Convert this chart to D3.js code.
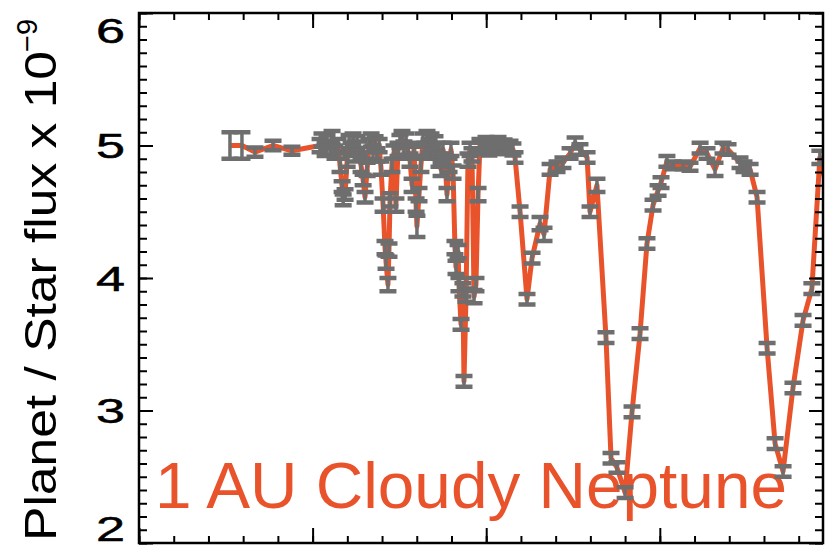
<!DOCTYPE html>
<html>
<head>
<meta charset="utf-8">
<script src="https://cdn.jsdelivr.net/npm/d3@7"></script>
<style>
  body { margin: 0; background: #fff; }
  svg { display: block; }
</style>
</head>
<body>
<svg id="chart" width="828" height="548"></svg>
<script>
// Reflected-light spectrum: planet/star flux ratio (units of 1e-9) vs wavelength (micron)
const wavelength = [
  // blue end
  0.4524, 0.4593, 0.4668, 0.4772, 0.4881,
  // dense band with narrow absorption features
  0.5043, 0.5054, 0.5072, 0.5083, 0.5101, 0.5112, 0.5129, 0.5147, 0.5158, 0.5170,
  0.5176, 0.5187, 0.5199, 0.5210, 0.5222, 0.5233, 0.5245, 0.5256, 0.5268, 0.5279,
  0.5291, 0.5302, 0.5314, 0.5325, 0.5337, 0.5348, 0.5360, 0.5371, 0.5383, 0.5394,
  0.5406, 0.5417, 0.5423, 0.5434, 0.5440, 0.5446, 0.5457, 0.5469, 0.5480, 0.5492,
  0.5503, 0.5515, 0.5526, 0.5538, 0.5550, 0.5561, 0.5573, 0.5584, 0.5596, 0.5601,
  0.5613, 0.5624, 0.5636, 0.5647, 0.5659, 0.5671, 0.5682, 0.5694, 0.5705, 0.5717,
  0.5728, 0.5740, 0.5751, 0.5763, 0.5774, 0.5786, 0.5797, 0.5809, 0.5820, 0.5826,
  0.5838, 0.5843, 0.5855, 0.5866, 0.5872, 0.5884, 0.5895, 0.5907, 0.5918, 0.5930,
  0.5941, 0.5953, 0.5964, 0.5982, 0.5999, 0.6016, 0.6033, 0.6051, 0.6068, 0.6085,
  0.6103, 0.6120, 0.6137, 0.6154, 0.6166,
  // broad methane bands
  0.6195, 0.6235, 0.6264, 0.6310, 0.6333, 0.6368, 0.6408, 0.6442, 0.6483, 0.6512,
  0.6540, 0.6581, 0.6598, 0.6638, 0.6690, 0.6719, 0.6753, 0.6800, 0.6840, 0.6886,
  0.6926, 0.6961, 0.6990, 0.7007, 0.7041, 0.7076, 0.7134, 0.7174, 0.7232, 0.7272,
  0.7318, 0.7364, 0.7393, 0.7462, 0.7485, 0.7520, 0.7560, 0.7618, 0.7664, 0.7710,
  0.7767, 0.7825, 0.7876, 0.7922, 0.8014
];
const flux = [
  5.00, 5.00, 4.95, 5.00, 4.96,
  5.00, 5.04, 4.97, 5.03, 4.98, 5.06, 4.95, 5.00, 4.85, 4.69,
  4.59, 4.63, 4.89, 5.03, 4.97, 5.04, 4.93, 5.02, 4.98, 4.85,
  4.74, 4.61, 4.82, 5.00, 5.04, 4.95, 5.02, 4.93, 5.00, 4.83,
  4.55, 4.23, 4.12, 3.95, 4.21, 4.59, 4.85, 4.95, 4.55, 4.97,
  5.03, 5.06, 4.98, 5.04, 4.95, 4.89, 4.70, 4.97, 4.55, 4.39,
  4.63, 4.85, 5.04, 4.97, 5.06, 5.00, 5.04, 4.95, 5.02, 4.97,
  4.89, 4.82, 4.97, 4.89, 4.63, 4.85, 4.97, 4.80, 4.23, 4.08,
  4.20, 3.95, 3.65, 3.91, 3.22, 3.87, 4.89, 4.97, 4.93, 3.86,
  3.95, 4.63, 5.00, 4.98, 5.02, 4.97, 5.01, 4.99, 5.02, 4.98,
  5.00, 4.98, 4.99, 4.97, 4.91,
  4.50, 3.84, 4.15, 4.41, 4.33, 4.82, 4.84, 4.87, 4.94, 5.02,
  4.97, 4.91, 4.50, 4.70, 3.55, 2.64, 2.57, 2.38, 2.99, 3.58,
  4.26, 4.55, 4.66, 4.72, 4.88, 4.85, 4.85, 4.84, 4.98, 4.94,
  4.82, 4.98, 4.97, 4.87, 4.84, 4.82, 4.61, 3.47, 2.75, 2.54,
  3.17, 3.68, 3.92, 4.91, 4.40
];
const fluxErr = [
  0.10, 0.10, 0.035, 0.035, 0.03,
  0.05, 0.05, 0.05, 0.05, 0.05, 0.05, 0.05, 0.05, 0.05, 0.04,
  0.04, 0.04, 0.05, 0.05, 0.05, 0.05, 0.05, 0.05, 0.05, 0.05,
  0.04, 0.04, 0.05, 0.05, 0.05, 0.05, 0.05, 0.05, 0.05, 0.05,
  0.05, 0.05, 0.05, 0.05, 0.05, 0.05, 0.05, 0.05, 0.05, 0.05,
  0.05, 0.05, 0.05, 0.05, 0.05, 0.05, 0.05, 0.05, 0.05, 0.08,
  0.05, 0.05, 0.05, 0.05, 0.05, 0.05, 0.05, 0.05, 0.05, 0.05,
  0.05, 0.05, 0.05, 0.05, 0.05, 0.05, 0.05, 0.05, 0.05, 0.05,
  0.05, 0.05, 0.04, 0.05, 0.04, 0.05, 0.05, 0.05, 0.05, 0.05,
  0.05, 0.05, 0.05, 0.045, 0.045, 0.045, 0.045, 0.045, 0.045, 0.045,
  0.045, 0.045, 0.045, 0.045, 0.04,
  0.04, 0.04, 0.04, 0.05, 0.05, 0.04, 0.04, 0.04, 0.04, 0.04,
  0.04, 0.04, 0.04, 0.05, 0.04, 0.04, 0.04, 0.04, 0.04, 0.04,
  0.04, 0.04, 0.04, 0.04, 0.04, 0.03, 0.03, 0.03, 0.04, 0.04,
  0.05, 0.04, 0.04, 0.04, 0.04, 0.04, 0.04, 0.04, 0.04, 0.04,
  0.04, 0.04, 0.04, 0.05, 0.05
];

const yTickValues = [2, 3, 4, 5, 6];
const yTickLabels = ["2", "3", "4", "5", "6"];
const xMajorTicks = [0.4, 0.5, 0.6, 0.7];
const xMinorTicks = d3.range(20, 40).map(i => i / 50);
const yMinorTicks = d3.range(20, 61).map(i => i / 10);
const seriesLabel = "1 AU Cloudy Neptune";
const yTitle = "Planet / Star flux x 10";
const yTitleExponent = "\u22129";

const lineColor = "#e9532b";
const barColor = "#6e6e6e";
const font = "'Liberation Sans', Arial, Helvetica, sans-serif";

const svg = d3.select("#chart");
const frame = { left: 139, right: 823, top: 13, bottom: 543 };

const x = d3.scaleLinear().domain([0.4, 0.794]).range([frame.left, frame.right]);
const y = d3.scaleLinear().domain([2, 6]).range([frame.bottom, frame.top]);

const points = wavelength.map((w, i) => ({ w, f: flux[i], e: fluxErr[i] }));

svg.append("defs").append("clipPath").attr("id", "plotClip")
  .append("rect").attr("x", frame.left).attr("y", frame.top)
  .attr("width", frame.right - frame.left).attr("height", frame.bottom - frame.top);

// Series label inside the plot
svg.append("text")
  .attr("x", 155).attr("y", 508)
  .attr("font-family", font).attr("font-size", 64)
  .attr("textLength", 632).attr("lengthAdjust", "spacingAndGlyphs")
  .attr("fill", lineColor)
  .text(seriesLabel);

const plot = svg.append("g").attr("clip-path", "url(#plotClip)");

// Spectrum line
plot.append("path")
  .datum(points)
  .attr("fill", "none")
  .attr("stroke", lineColor)
  .attr("stroke-width", 5)
  .attr("stroke-linejoin", "round")
  .attr("d", d3.line().x(d => x(d.w)).y(d => y(d.f)));

// Error bars
const capHalf = 8.5;
const bars = plot.append("g").attr("stroke", barColor).attr("fill", "none");
bars.selectAll("path.stem").data(points).join("path")
  .attr("class", "stem")
  .attr("stroke-width", 3.5)
  .attr("d", d => `M${x(d.w)},${y(d.f + d.e)}V${y(d.f - d.e)}`);
bars.selectAll("path.cap").data(points).join("path")
  .attr("class", "cap")
  .attr("stroke-width", 4.5)
  .attr("d", d => {
    const cx = x(d.w), t = y(d.f + d.e), b = y(d.f - d.e);
    return `M${cx - capHalf},${t}H${cx + capHalf}M${cx - capHalf},${b}H${cx + capHalf}`;
  });

// Axes: ticks point inward on all four sides
function styleAxis(g) {
  g.select(".domain").remove();
  g.selectAll(".tick line").attr("stroke", "#000").attr("stroke-width", 2);
  g.selectAll(".tick text").remove();
}
const axes = svg.append("g");
axes.append("g").attr("transform", `translate(0,${frame.bottom})`)
  .call(d3.axisBottom(x).tickValues(xMinorTicks).tickSize(-7)).call(styleAxis);
axes.append("g").attr("transform", `translate(0,${frame.bottom})`)
  .call(d3.axisBottom(x).tickValues(xMajorTicks).tickSize(-15)).call(styleAxis);
axes.append("g").attr("transform", `translate(0,${frame.top})`)
  .call(d3.axisTop(x).tickValues(xMinorTicks).tickSize(-7)).call(styleAxis);
axes.append("g").attr("transform", `translate(0,${frame.top})`)
  .call(d3.axisTop(x).tickValues(xMajorTicks).tickSize(-15)).call(styleAxis);
axes.append("g").attr("transform", `translate(${frame.left},0)`)
  .call(d3.axisLeft(y).tickValues(yMinorTicks).tickSize(-8)).call(styleAxis);
axes.append("g").attr("transform", `translate(${frame.left},0)`)
  .call(d3.axisLeft(y).tickValues(yTickValues).tickSize(-14)).call(styleAxis);
axes.append("g").attr("transform", `translate(${frame.right},0)`)
  .call(d3.axisRight(y).tickValues(yMinorTicks).tickSize(-8)).call(styleAxis);
axes.append("g").attr("transform", `translate(${frame.right},0)`)
  .call(d3.axisRight(y).tickValues(yTickValues).tickSize(-14)).call(styleAxis);

// Frame
svg.append("rect")
  .attr("x", frame.left).attr("y", frame.top)
  .attr("width", frame.right - frame.left).attr("height", frame.bottom - frame.top)
  .attr("fill", "none").attr("stroke", "#000").attr("stroke-width", 2.5);

// Y tick labels, kept inside the frame's vertical extent
svg.append("g").selectAll("text").data(yTickValues).join("text")
  .attr("transform", d => {
    const cy = Math.min(Math.max(y(d), frame.top + 17), frame.bottom - 15);
    return `translate(125,${cy}) scale(1.45,1)`;
  })
  .attr("dy", "0.36em")
  .attr("text-anchor", "end")
  .attr("font-family", font).attr("font-size", 36)
  .attr("fill", "#000")
  .attr("stroke", "#000").attr("stroke-width", 0.5)
  .text((d, i) => yTickLabels[i]);

// Y axis title with exponent
svg.append("text")
  .attr("transform", "translate(56,541) rotate(-90)")
  .attr("font-family", font).attr("font-size", 45)
  .attr("textLength", 490).attr("lengthAdjust", "spacingAndGlyphs")
  .attr("fill", "#000")
  .text(yTitle);
svg.append("text")
  .attr("transform", "translate(37,52) rotate(-90)")
  .attr("font-family", font).attr("font-size", 29)
  .attr("fill", "#000")
  .text(yTitleExponent);
</script>
</body>
</html>
